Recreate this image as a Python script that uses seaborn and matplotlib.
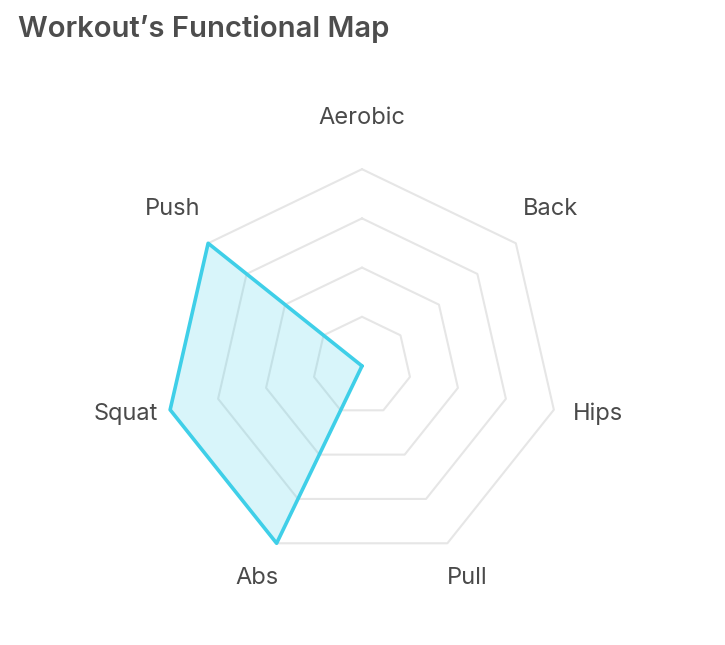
import numpy as np
import seaborn as sns
import matplotlib.pyplot as plt
from matplotlib.transforms import offset_copy

# data
categories = ['Aerobic', 'Back', 'Hips', 'Pull', 'Abs', 'Squat', 'Push']
values = [0, 0, 0, 0, 4, 4, 4]
ring_levels = [1, 2, 3, 4]
scale_max = 5

line_color = '#3fcfe8'
grid_color = '#e6e6e6'
text_color = '#4a4a4a'

sns.set_theme(style='white')
plt.rcParams['font.family'] = ['Inter', 'DejaVu Sans']

fig = plt.figure(figsize=(7.25, 6.45), dpi=100)
ax = fig.add_axes([0.16, 0.0512, 0.6786, 0.7628], polar=True)
ax.set_theta_zero_location('N')
ax.set_theta_direction(-1)
ax.set_ylim(0, scale_max)
ax.grid(False)
ax.set_xticks([])
ax.set_yticks([])
ax.spines['polar'].set_visible(False)
ax.set_facecolor('none')

n = len(categories)
angles = np.linspace(0, 2 * np.pi, n, endpoint=False)
closed = np.append(angles, angles[0])

# polygon grid rings
for lvl in ring_levels:
    ax.plot(closed, [lvl] * (n + 1), color=grid_color, lw=1.5, zorder=1)

# data polygon
vals = np.append(values, values[0])
ax.fill(closed, vals, color=line_color, alpha=0.2, lw=0, zorder=2)
sns.lineplot(x=closed, y=vals, sort=False, estimator=None, ax=ax,
             color=line_color, lw=2.6, zorder=3)
ax.set_xlabel('')
ax.set_ylabel('')

# point labels just outside the outer ring, nudged up a little
px_per_unit = 49.25
label_tr = offset_copy(ax.transData, fig=fig, x=0, y=6, units='dots')
for ang, name in zip(angles, categories):
    ax.text(ang, 242 / px_per_unit, name, ha='center', va='center',
            fontsize=17, color=text_color, transform=label_tr)

fig.text(18 / 725, 1 - 37 / 645, 'Workout\u2019s Functional Map', ha='left',
         va='baseline', fontsize=21, fontweight='semibold', color='#4d4d4d')

fig.savefig('out.png', dpi=100)
